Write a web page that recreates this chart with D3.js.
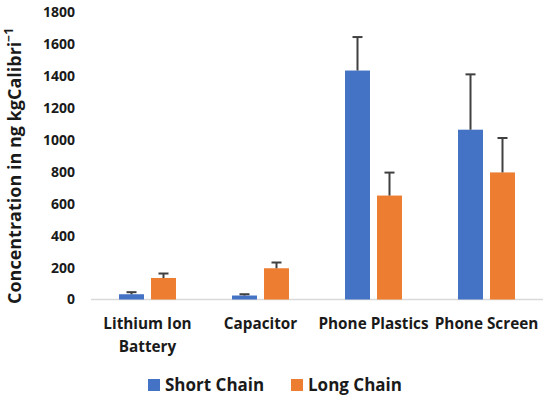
<!DOCTYPE html>
<html>
<head>
<meta charset="utf-8">
<script src="https://cdn.jsdelivr.net/npm/d3@7"></script>
<style>
  body { margin: 0; background: #fff; }
  text { font-family: "Open Sans", sans-serif; font-weight: bold; fill: #1a1a1a; }
</style>
</head>
<body>
<div id="wrapper"></div>
<script>
const categories = ["Lithium Ion Battery", "Capacitor", "Phone Plastics", "Phone Screen"]
const categoryLines = [["Lithium Ion", "Battery"], ["Capacitor"], ["Phone Plastics"], ["Phone Screen"]]
const seriesNames = ["Short Chain", "Long Chain"]
const shortChain = [33, 25, 1436, 1065]
const shortChainErr = [13, 8, 210, 347]
const longChain = [135, 196, 652, 797]
const longChainErr = [28, 36, 144, 216]
const yTicks = [0, 200, 400, 600, 800, 1000, 1200, 1400, 1600, 1800]
const colors = ["#4472C4", "#ED7D31"]

function drawChart() {
    let dimensions = {
        width: 550,
        height: 399,
        margin: {
            top: 12.5,
            right: 7,
            bottom: 99.5,
            left: 91,
        },
    }
    dimensions.boundedWidth = dimensions.width - dimensions.margin.left - dimensions.margin.right
    dimensions.boundedHeight = dimensions.height - dimensions.margin.top - dimensions.margin.bottom

    const wrapper = d3.select("#wrapper").append("svg")
        .attr("width", dimensions.width)
        .attr("height", dimensions.height)

    const bounds = wrapper.append("g")
        .attr("transform", `translate(${dimensions.margin.left}, ${dimensions.margin.top})`)

    // scales
    const yScale = d3.scaleLinear()
        .domain([0, 1800])
        .range([dimensions.boundedHeight, 0])

    const xScale = d3.scaleBand()
        .domain(categories)
        .range([0, dimensions.boundedWidth])
        .paddingInner(0.496)
        .paddingOuter(0.248)

    const subScale = d3.scaleBand()
        .domain(seriesNames)
        .range([0, xScale.bandwidth()])
        .paddingInner(0.22)

    const dataset = categories.map((c, i) => ({
        category: c,
        values: [
            { series: seriesNames[0], value: shortChain[i], err: shortChainErr[i] },
            { series: seriesNames[1], value: longChain[i], err: longChainErr[i] },
        ]
    }))

    // y axis (labels only)
    const yAxis = bounds.append("g")
        .call(d3.axisLeft(yScale).tickValues(yTicks).tickFormat(d3.format("d")).tickSize(0).tickPadding(16))
    yAxis.select(".domain").remove()
    yAxis.selectAll("text")
        .style("font-family", "'Open Sans', sans-serif")
        .style("font-weight", "bold")
        .style("font-size", "14px")
        .attr("fill", "#1a1a1a")

    // baseline
    bounds.append("line")
        .attr("x1", 0)
        .attr("x2", dimensions.boundedWidth)
        .attr("y1", yScale(0))
        .attr("y2", yScale(0))
        .attr("stroke", "#d9d9d9")
        .attr("stroke-width", 1.5)

    // bars
    const groups = bounds.selectAll(".group")
        .data(dataset)
        .enter().append("g")
        .attr("class", "group")
        .attr("transform", d => `translate(${xScale(d.category)}, 0)`)

    groups.selectAll("rect")
        .data(d => d.values)
        .enter().append("rect")
        .attr("x", d => subScale(d.series))
        .attr("width", subScale.bandwidth())
        .attr("y", d => yScale(d.value))
        .attr("height", d => yScale(0) - yScale(d.value))
        .attr("fill", (d, i) => colors[i])

    // error bars (upper only)
    const capHalf = 5
    const errs = groups.selectAll(".err")
        .data(d => d.values)
        .enter().append("g")
        .attr("class", "err")
        .attr("stroke", "#404040")
        .attr("stroke-width", 2)
    errs.append("line")
        .attr("x1", d => subScale(d.series) + subScale.bandwidth() / 2)
        .attr("x2", d => subScale(d.series) + subScale.bandwidth() / 2)
        .attr("y1", d => yScale(d.value))
        .attr("y2", d => yScale(d.value + d.err))
    errs.append("line")
        .attr("x1", d => subScale(d.series) + subScale.bandwidth() / 2 - capHalf)
        .attr("x2", d => subScale(d.series) + subScale.bandwidth() / 2 + capHalf)
        .attr("y1", d => yScale(d.value + d.err))
        .attr("y2", d => yScale(d.value + d.err))

    // category labels
    const catLabels = bounds.selectAll(".cat")
        .data(categories)
        .enter().append("text")
        .attr("class", "cat")
        .attr("text-anchor", "middle")
        .style("font-size", "15.3px")
        .attr("transform", d => `translate(${xScale(d) + xScale.bandwidth() / 2}, ${dimensions.boundedHeight + 29})`)
    catLabels.selectAll("tspan")
        .data((d, i) => categoryLines[i])
        .enter().append("tspan")
        .attr("x", 0)
        .attr("dy", (d, i) => i == 0 ? 0 : 23)
        .text(d => d)

    // y title
    const yTitle = wrapper.append("text")
        .attr("text-anchor", "middle")
        .style("font-size", "18px")
        .attr("transform", `translate(21, 166) rotate(-90)`)
    yTitle.append("tspan").text("Concentration in ng kgCalibri")
    yTitle.append("tspan")
        .attr("dy", -8)
        .style("font-size", "12px")
        .text("\u22121")

    // legend
    const legend = wrapper.append("g")
        .attr("transform", "translate(148, 385)")
    const legendOffsets = [0, 143]
    const items = legend.selectAll("g")
        .data(seriesNames)
        .enter().append("g")
        .attr("transform", (d, i) => `translate(${legendOffsets[i]}, 0)`)
    items.append("rect")
        .attr("y", -6)
        .attr("width", 12)
        .attr("height", 12)
        .attr("fill", (d, i) => colors[i])
    items.append("text")
        .attr("x", 17)
        .attr("dy", "0.35em")
        .style("font-size", "17px")
        .text(d => d)
}

drawChart()
</script>
</body>
</html>
